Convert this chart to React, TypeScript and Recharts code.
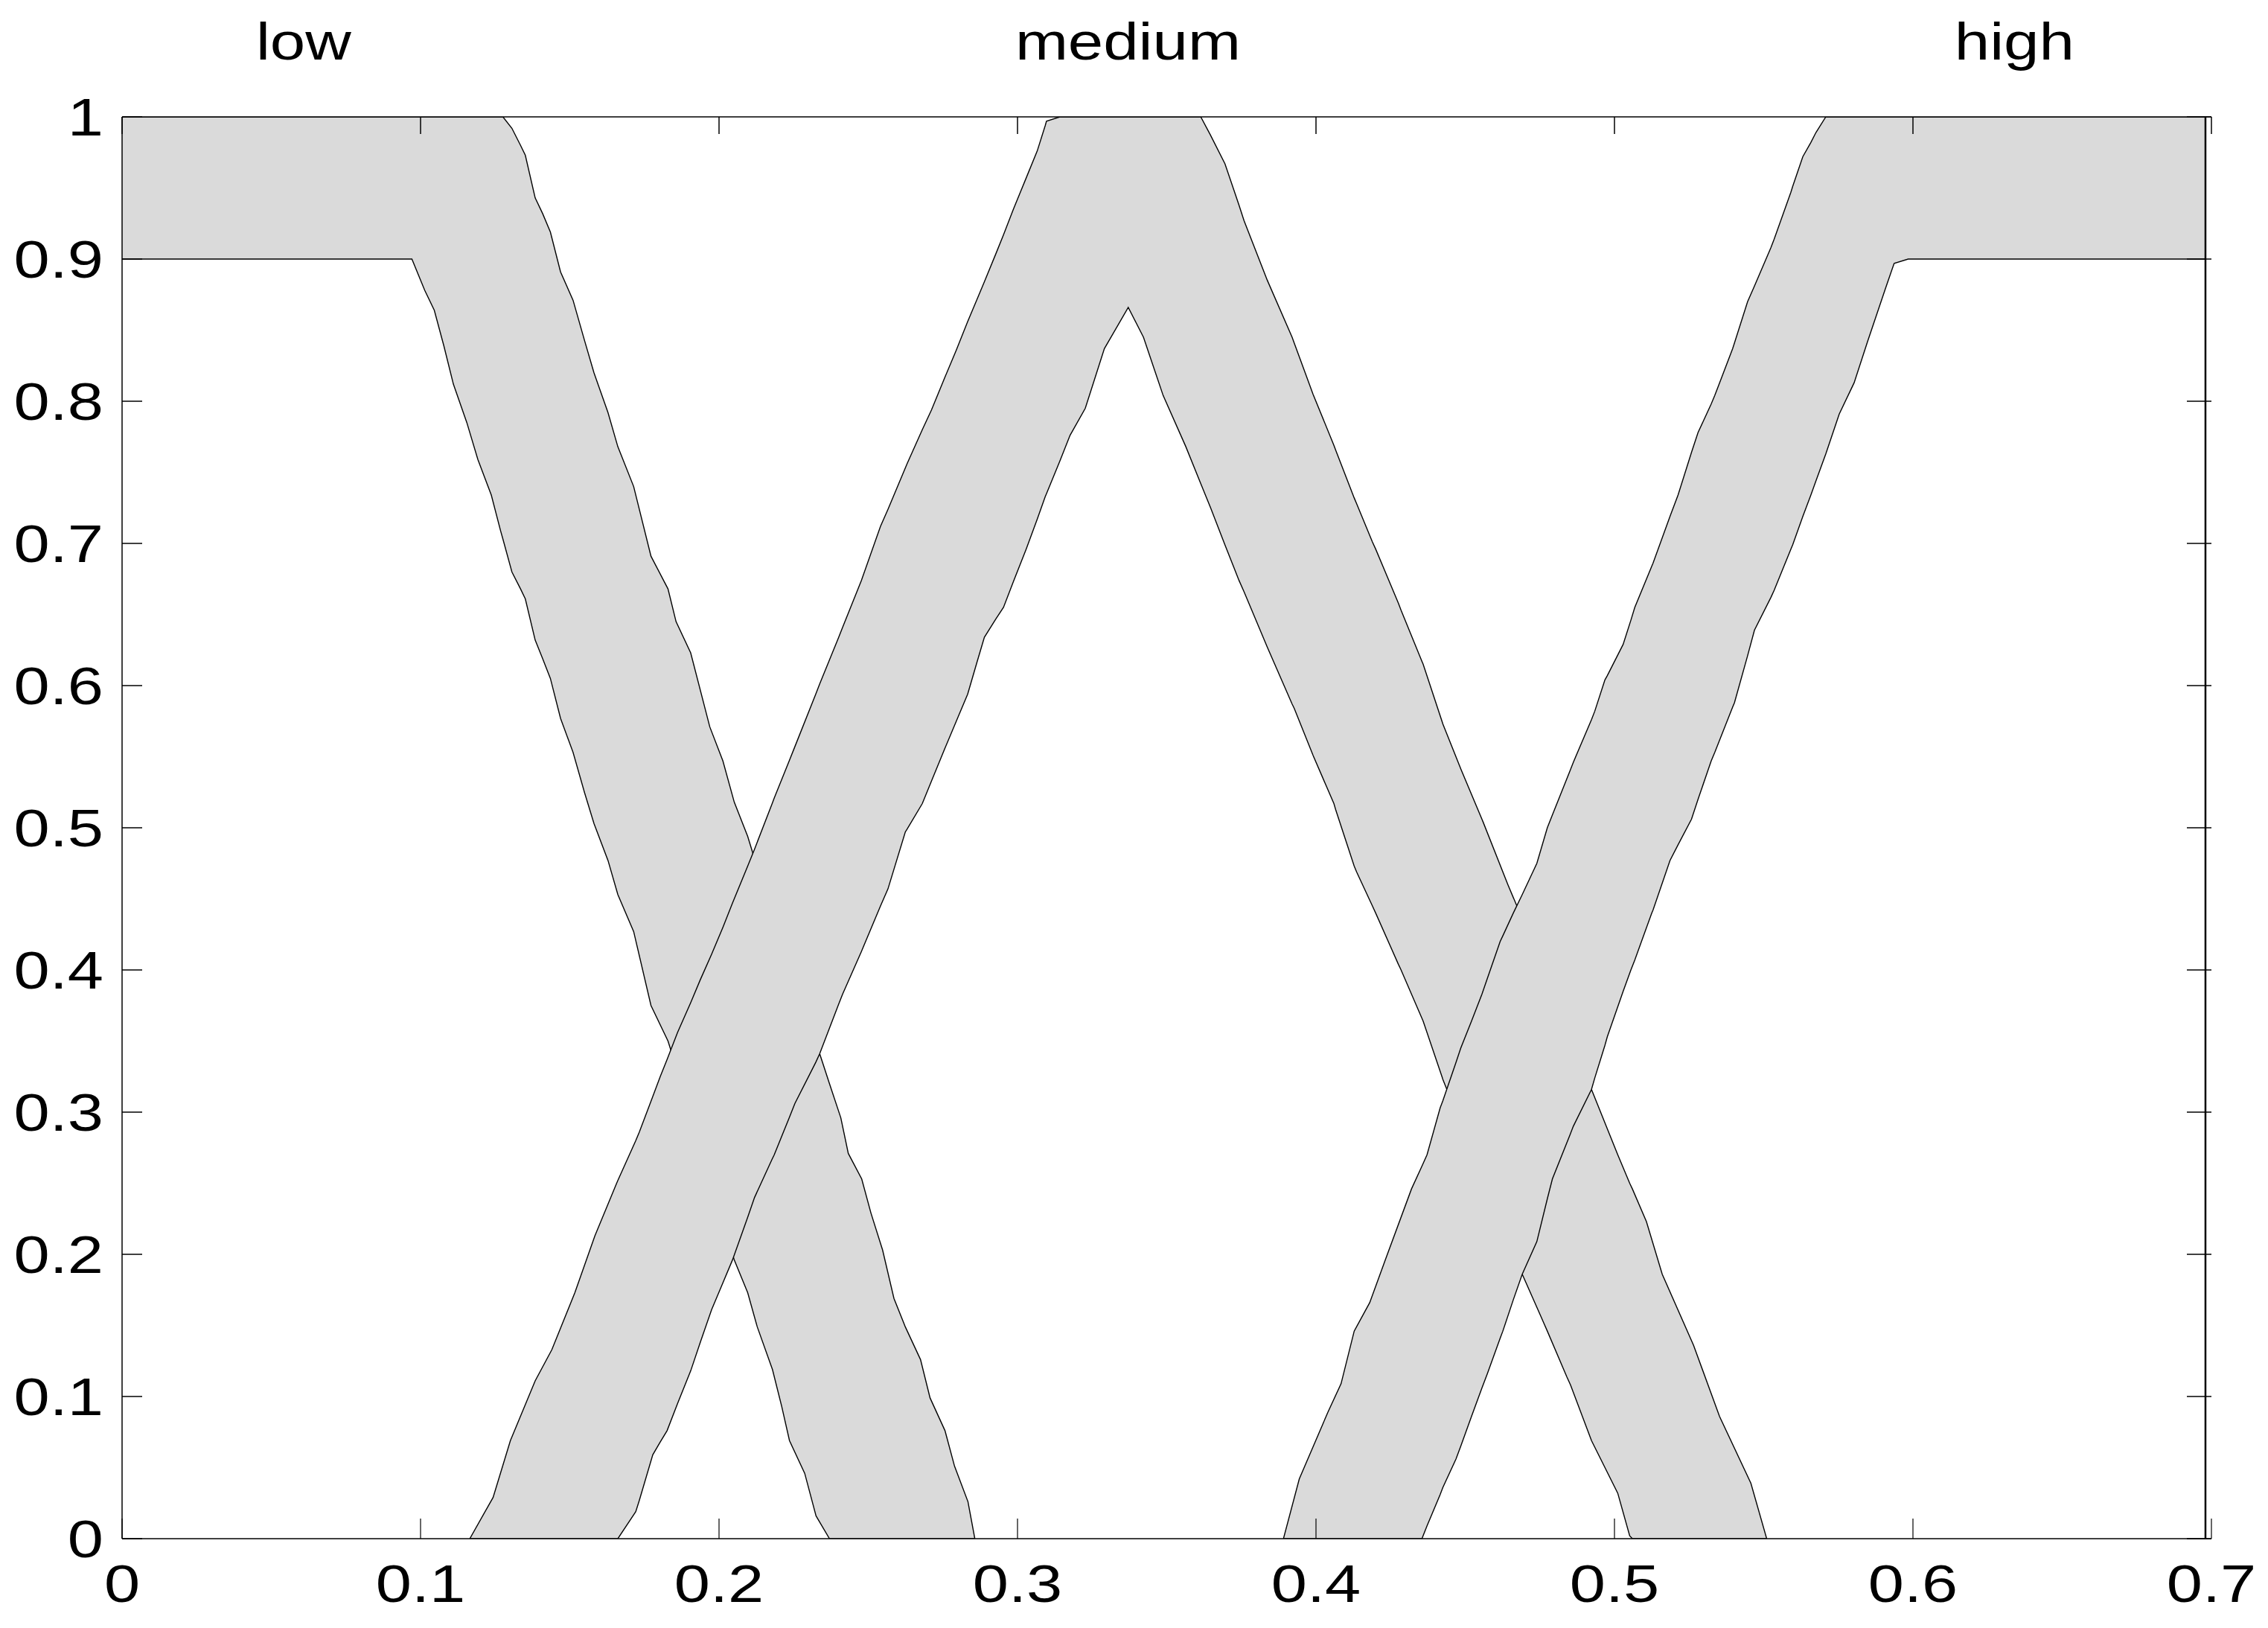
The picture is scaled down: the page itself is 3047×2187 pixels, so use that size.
import React from "react";
import { ComposedChart, Area, XAxis, YAxis, ReferenceLine, ReferenceDot } from "recharts";

// interval type-2 membership bands, each row: [x, lower MF, upper MF]
const lowBand: [number, number, number][] = [
  [0, 0.9, 1], [0.0971, 0.9, 1], [0.1014, 0.878, 1], [0.1046, 0.864, 1], [0.1078, 0.839, 1],
  [0.111, 0.812, 1], [0.1155, 0.785, 1], [0.1192, 0.759, 1], [0.1237, 0.734, 1], [0.1268, 0.709, 1],
  [0.1276, 0.703, 1], [0.1306, 0.68, 0.992], [0.1335, 0.668, 0.98], [0.1351, 0.661, 0.973],
  [0.1384, 0.632, 0.943], [0.1409, 0.619, 0.932], [0.1435, 0.605, 0.919], [0.1469, 0.577, 0.891],
  [0.1511, 0.553, 0.871], [0.1549, 0.525, 0.843], [0.1581, 0.503, 0.82], [0.1628, 0.477, 0.792],
  [0.1661, 0.453, 0.768], [0.1714, 0.427, 0.74], [0.1772, 0.375, 0.691], [0.1829, 0.35, 0.668],
  [0.1856, 0.332, 0.645], [0.1905, 0.3, 0.623], [0.1969, 0.256, 0.571], [0.2013, 0.224, 0.547],
  [0.2051, 0.196, 0.518], [0.2096, 0.173, 0.494], [0.2128, 0.149, 0.472], [0.2179, 0.119, 0.441],
  [0.221, 0.093, 0.421], [0.2236, 0.069, 0.405], [0.2287, 0.046, 0.373], [0.2325, 0.016, 0.349],
  [0.237, 0, 0.32], [0.2408, 0, 0.296], [0.2433, 0, 0.271], [0.2478, 0, 0.253], [0.2509, 0, 0.229],
  [0.2548, 0, 0.203], [0.2586, 0, 0.169], [0.2624, 0, 0.149], [0.2675, 0, 0.126], [0.2707, 0, 0.099],
  [0.2757, 0, 0.076], [0.2789, 0, 0.051], [0.2834, 0, 0.026], [0.2857, 0, 0],
];

const mediumBand: [number, number, number][] = [
  [0.1165, 0, 0], [0.1243, 0, 0.029], [0.1301, 0, 0.069], [0.1384, 0, 0.111], [0.144, 0, 0.133],
  [0.1517, 0, 0.173], [0.1584, 0, 0.213], [0.1657, 0, 0.25], [0.1661, 0, 0.252], [0.1721, 0.019, 0.28],
  [0.1733, 0.027, 0.286], [0.1778, 0.059, 0.311], [0.1803, 0.068, 0.325], [0.1826, 0.076, 0.337],
  [0.1861, 0.095, 0.356], [0.1905, 0.118, 0.377], [0.1937, 0.138, 0.393], [0.1975, 0.161, 0.411],
  [0.2013, 0.18, 0.43], [0.2045, 0.196, 0.447], [0.2096, 0.226, 0.473], [0.2119, 0.24, 0.485],
  [0.2178, 0.267, 0.517], [0.2185, 0.27, 0.521], [0.2235, 0.296, 0.547], [0.2254, 0.306, 0.557],
  [0.2324, 0.335, 0.594], [0.2337, 0.341, 0.601], [0.2401, 0.376, 0.634], [0.2414, 0.383, 0.641],
  [0.2477, 0.413, 0.674], [0.2541, 0.445, 0.712], [0.2566, 0.457, 0.724], [0.2624, 0.497, 0.753],
  [0.263, 0.499, 0.756], [0.2681, 0.517, 0.78], [0.2712, 0.533, 0.794], [0.2757, 0.556, 0.817],
  [0.2795, 0.575, 0.836], [0.2833, 0.594, 0.856], [0.2865, 0.617, 0.872], [0.2889, 0.634, 0.884],
  [0.2928, 0.647, 0.904], [0.2953, 0.655, 0.917], [0.2986, 0.673, 0.935], [0.3029, 0.696, 0.957],
  [0.3066, 0.717, 0.976], [0.3093, 0.733, 0.994], [0.3097, 0.735, 0.997], [0.3142, 0.758, 1],
  [0.3176, 0.776, 1], [0.3227, 0.795, 1], [0.3291, 0.837, 1], [0.3371, 0.866, 1], [0.3422, 0.845, 1],
  [0.3488, 0.804, 1], [0.3564, 0.768, 1], [0.3614, 0.742, 1], [0.3647, 0.725, 0.987],
  [0.3695, 0.699, 0.967], [0.3742, 0.674, 0.938], [0.3759, 0.666, 0.927], [0.3837, 0.627, 0.885],
  [0.392, 0.587, 0.845], [0.3927, 0.584, 0.841], [0.399, 0.551, 0.805], [0.406, 0.517, 0.769],
  [0.4067, 0.512, 0.765], [0.4128, 0.473, 0.732], [0.4136, 0.469, 0.728], [0.4189, 0.445, 0.701],
  [0.42, 0.44, 0.696], [0.4276, 0.404, 0.658], [0.4285, 0.4, 0.653], [0.4355, 0.366, 0.617],
  [0.4359, 0.364, 0.615], [0.4422, 0.325, 0.575], [0.4425, 0.323, 0.573], [0.4486, 0.291, 0.541],
  [0.4556, 0.255, 0.506], [0.456, 0.253, 0.504], [0.4643, 0.211, 0.46], [0.4691, 0.186, 0.436],
  [0.475, 0.158, 0.407], [0.4775, 0.146, 0.394], [0.484, 0.114, 0.36], [0.4853, 0.108, 0.353],
  [0.4923, 0.069, 0.316], [0.5011, 0.032, 0.27], [0.5051, 0.002, 0.25], [0.506, 0, 0.246],
  [0.5107, 0, 0.223], [0.516, 0, 0.186], [0.5265, 0, 0.136], [0.5352, 0, 0.086], [0.5457, 0, 0.039],
  [0.551, 0, 0],
];

const highBand: [number, number, number][] = [
  [0.3891, 0, 0], [0.3944, 0, 0.042], [0.404, 0, 0.089], [0.4084, 0, 0.109], [0.4128, 0, 0.146],
  [0.418, 0, 0.166], [0.4232, 0, 0.196], [0.432, 0, 0.246], [0.4355, 0, 0.262], [0.4372, 0.009, 0.27],
  [0.4416, 0.031, 0.303], [0.4425, 0.036, 0.308], [0.4469, 0.056, 0.335], [0.4485, 0.065, 0.345],
  [0.4521, 0.086, 0.364], [0.4556, 0.106, 0.383], [0.4574, 0.116, 0.394], [0.4617, 0.141, 0.42],
  [0.4626, 0.146, 0.424], [0.4661, 0.168, 0.44], [0.4691, 0.186, 0.453], [0.474, 0.209, 0.475],
  [0.4775, 0.239, 0.5], [0.4792, 0.253, 0.509], [0.4851, 0.284, 0.54], [0.4862, 0.29, 0.546],
  [0.4923, 0.316, 0.576], [0.4934, 0.324, 0.582], [0.4968, 0.347, 0.604], [0.4976, 0.353, 0.607],
  [0.5029, 0.385, 0.629], [0.5055, 0.4, 0.646], [0.5068, 0.407, 0.655], [0.5125, 0.44, 0.684],
  [0.5129, 0.442, 0.686], [0.5186, 0.477, 0.719], [0.5213, 0.488, 0.734], [0.5258, 0.506, 0.764],
  [0.528, 0.52, 0.778], [0.5324, 0.547, 0.798], [0.5336, 0.553, 0.804], [0.5396, 0.585, 0.837],
  [0.5402, 0.588, 0.841], [0.5446, 0.621, 0.87], [0.5469, 0.639, 0.881], [0.5524, 0.662, 0.908],
  [0.5535, 0.667, 0.914], [0.5591, 0.696, 0.947], [0.5597, 0.699, 0.951], [0.5631, 0.719, 0.972],
  [0.5658, 0.734, 0.982], [0.5675, 0.744, 0.989], [0.5708, 0.763, 1], [0.5753, 0.791, 1],
  [0.5803, 0.813, 1], [0.5848, 0.842, 1], [0.5909, 0.88, 1], [0.5937, 0.897, 1], [0.5984, 0.9, 1],
  [0.698, 0.9, 1],
];

const xTicks = [0, 0.1, 0.2, 0.3, 0.4, 0.5, 0.6, 0.7];
const yTicks = [0, 0.1, 0.2, 0.3, 0.4, 0.5, 0.6, 0.7, 0.8, 0.9, 1];
const setNames = ["low", "medium", "high"];
const setNameX = [0.0608, 0.337, 0.634];
const bandEnd = 0.698;
const topTickLen = 0.012; // inward tick length on the top border, in y units

const FONT = '"Liberation Sans", Arial, Helvetica, sans-serif';
const FILL = "#dadada";
const STRETCH = 1.22;

const toRows = (band: [number, number, number][]) =>
  band.map(([x, lo, hi]) => ({ x, range: [lo, hi] }));

function XTick({ x, y, payload }: any) {
  return (
    <text
      transform={`translate(${x},${y}) scale(${STRETCH},1)`}
      textAnchor="middle"
      fontSize={71}
      fontFamily={FONT}
      fill="#000"
    >
      {String(payload.value)}
    </text>
  );
}

function YTick({ x, y, payload }: any) {
  return (
    <text
      transform={`translate(${x},${y + 25}) scale(${STRETCH},1)`}
      textAnchor="end"
      fontSize={71}
      fontFamily={FONT}
      fill="#000"
    >
      {String(payload.value)}
    </text>
  );
}

// right axis only carries tick marks
function NoLabel() {
  return <g />;
}

function SetLabel(props: any) {
  const { viewBox, text } = props;
  const cx = viewBox.x + (viewBox.width || 0) / 2;
  return (
    <text
      transform={`translate(${cx},${viewBox.y - 77}) scale(1.2,1)`}
      textAnchor="middle"
      fontSize={71}
      fontFamily={FONT}
      fill="#000"
    >
      {text}
    </text>
  );
}

export default function App() {
  const bands = [lowBand, mediumBand, highBand];
  return (
    <div style={{ position: "absolute", left: 0, top: 0, background: "#fff" }}>
      <ComposedChart width={3047} height={2187} margin={{ top: 156, right: 75, bottom: 0, left: 0 }}>
        <XAxis
          dataKey="x"
          type="number"
          domain={[0, 0.7]}
          ticks={xTicks}
          interval={0}
          allowDataOverflow
          height={120}
          tickSize={-27}
          tickMargin={112}
          axisLine={{ stroke: "#000", strokeWidth: 1.5 }}
          tickLine={{ stroke: "#000", strokeWidth: 1.2 }}
          tick={<XTick />}
        />
        <XAxis
          xAxisId="top"
          orientation="top"
          dataKey="x"
          type="number"
          domain={[0, 0.7]}
          ticks={xTicks}
          allowDataOverflow
          height={1}
          axisLine={{ stroke: "#000", strokeWidth: 1.5 }}
          tickLine={false}
          tick={false}
        />
        <YAxis
          type="number"
          domain={[0, 1]}
          ticks={yTicks}
          interval={0}
          allowDataOverflow
          width={164}
          tickSize={-27}
          tickMargin={52}
          axisLine={{ stroke: "#000", strokeWidth: 1.5 }}
          tickLine={{ stroke: "#000", strokeWidth: 1.5 }}
          tick={<YTick />}
        />
        <YAxis
          yAxisId="right"
          orientation="right"
          type="number"
          domain={[0, 1]}
          ticks={yTicks}
          interval={0}
          allowDataOverflow
          width={1}
          tickSize={-33}
          tickMargin={0}
          axisLine={false}
          tickLine={{ stroke: "#000", strokeWidth: 1.5 }}
          tick={<NoLabel />}
        />
        {xTicks.map((t) => (
          <ReferenceLine
            key={`top-${t}`}
            segment={[{ x: t, y: 1 }, { x: t, y: 1 - topTickLen }]}
            stroke="#000"
            strokeWidth={1.5}
            ifOverflow="visible"
          />
        ))}
        {bands.map((band, i) => (
          <Area
            key={setNames[i]}
            data={toRows(band)}
            dataKey="range"
            type="linear"
            fill={FILL}
            fillOpacity={1}
            stroke="#000"
            strokeWidth={1.4}
            dot={false}
            activeDot={false}
            isAnimationActive={false}
          />
        ))}
        <ReferenceLine x={bandEnd} stroke="#000" strokeWidth={2.5} />
        {setNames.map((name, i) => (
          <ReferenceDot
            key={name}
            x={setNameX[i]}
            y={1}
            r={0}
            fill="none"
            stroke="none"
            ifOverflow="visible"
            label={(p: any) => <SetLabel {...p} text={name} />}
          />
        ))}
      </ComposedChart>
    </div>
  );
}
